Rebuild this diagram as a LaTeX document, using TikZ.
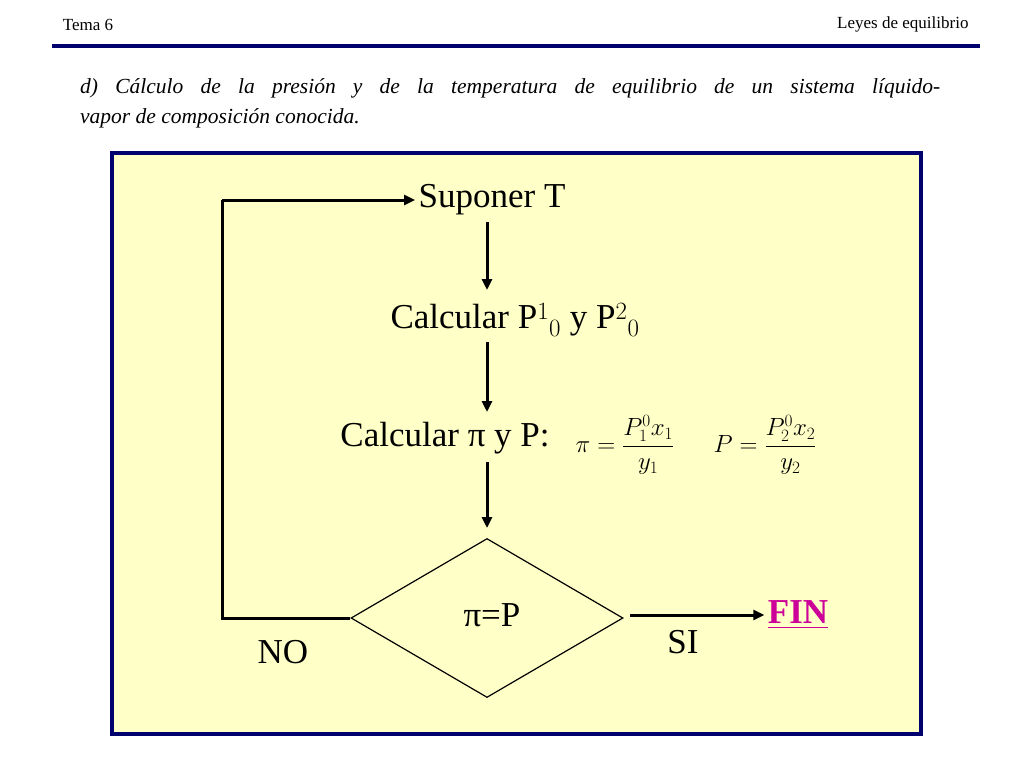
\documentclass[tikz,border=0pt]{standalone}
\usepackage{fontspec}
\setmainfont{Liberation Serif}
\usepackage{amsmath}
\usetikzlibrary{shapes.geometric,arrows.meta}
\definecolor{navy}{RGB}{0,0,110}
\definecolor{boxbg}{RGB}{255,255,200}
\definecolor{fincol}{RGB}{204,0,153}
\tikzset{flow/.style={line width=3pt,-{Triangle[length=11pt,width=10pt]}},
big/.style={font=\fontsize{35}{40}\selectfont}}
\begin{document}
\begin{tikzpicture}[x=1pt,y=-1pt]
\useasboundingbox (0,0) rectangle (1024,768);
\node[font=\fontsize{17}{20}\selectfont] (tema) at (88,25) {Tema 6};
\node[font=\fontsize{17}{20}\selectfont,anchor=east] (leyes) at (972,24) {Leyes de equilibrio};
\draw[navy,line width=4pt] (52,46) -- (980,46);
\node[anchor=north west,text width=860pt,align=justify,font=\fontsize{21.5}{30}\selectfont\itshape,inner sep=0] (par) at (80,78) {d) Cálculo de la presión y de la temperatura de equilibrio de un sistema líquido-\linebreak vapor de composición conocida.};
\draw[navy,line width=3.5pt,fill=boxbg] (112,153) rectangle (921,734);
\node[big] (sup) at (492,200) {Suponer T};
\node[big] (cp) at (515,320) {Calcular P$^{1}{}_{0}$ y P$^{2}{}_{0}$};
\node[big] (cpi) at (445,438) {Calcular π y P:};
\node[font=\fontsize{23}{26}\selectfont] (f1) at (625,445) {$\pi = \dfrac{P_1^0 x_1}{y_1}$};
\node[font=\fontsize{23}{26}\selectfont] (f2) at (765,445) {$P = \dfrac{P_2^0 x_2}{y_2}$};
\node[draw,diamond,aspect=1.72,minimum width=272pt,minimum height=159pt,inner sep=0,line width=1.2pt] (d) at (487,618) {};
\node[big] (eq) at (492,615) {π=P};
\node[big] (no) at (283,652) {NO};
\node[big] (si) at (683,642) {SI};
\node[font=\fontsize{35}{40}\selectfont\bfseries,text=fincol] (fin) at (798,615) {\underline{FIN}};
\draw[flow] (487,222) -- (487,290);
\draw[flow] (487,342) -- (487,412);
\draw[flow] (487,462) -- (487,528);
\draw[flow] (630,615) -- (fin.west);
\coordinate (c1) at (222,618);
\coordinate (c2) at (222,200);
\draw[line width=3pt] (d.west) -- (c1) -- (c2);
\draw[flow] (c2) -- (sup.west);
\end{tikzpicture}
\end{document}
